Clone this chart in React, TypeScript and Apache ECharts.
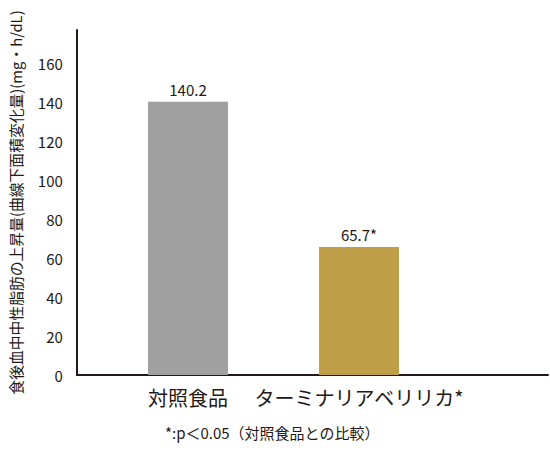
import React, { useEffect, useRef } from "react";
import * as echarts from "echarts";

const categories = ["対照食品", "ターミナリアベリリカ*"];
const values = [140.2, 65.7];
const valueLabels = ["140.2", "65.7*"];
const barColors = ["#a0a0a0", "#bf9e4a"];
const yAxisName = "食後血中中性脂肪の上昇量(曲線下面積変化量)(mg・h/dL)";
const footnote = "*:p＜0.05（対照食品との比較）";

const FONT = "'Noto Sans CJK JP', 'Noto Sans', sans-serif";
const TEXT = "#231815";

export default function App() {
  const ref = useRef<HTMLDivElement>(null);
  useEffect(() => {
    document.body.style.margin = "0";
    if (!ref.current) return;
    const chart = echarts.init(ref.current, null, { renderer: "svg" });
    chart.setOption({
      animation: false,
      textStyle: { fontFamily: FONT, color: TEXT },
      grid: [
        { left: 62, right: 2, top: 30, bottom: 75 },
        { left: 102.5, right: 105.5, top: 30, bottom: 75 },
      ],
      xAxis: [
        {
          gridIndex: 0,
          type: "value",
          min: 0,
          max: 1,
          axisLine: { show: true, onZero: false, lineStyle: { color: TEXT, width: 2 } },
          axisTick: { show: false },
          axisLabel: { show: false },
          splitLine: { show: false },
        },
        {
          gridIndex: 1,
          type: "category",
          data: categories,
          axisLine: { show: false },
          axisTick: { show: false },
          axisLabel: {
            fontFamily: FONT,
            fontSize: 20,
            color: TEXT,
            margin: 12,
            interval: 0,
          },
        },
      ],
      yAxis: [
        {
          gridIndex: 0,
          type: "value",
          min: 0,
          max: 177,
          interval: 20,
          name: yAxisName,
          nameLocation: "middle",
          nameGap: 54,
          nameTextStyle: { fontFamily: FONT, fontSize: 14.8, color: TEXT },
          axisLine: { show: true, lineStyle: { color: TEXT, width: 2 } },
          axisTick: { show: false },
          splitLine: { show: false },
          axisLabel: {
            fontFamily: FONT,
            fontSize: 15,
            color: TEXT,
            margin: 14,
            showMaxLabel: false,
          },
        },
        {
          gridIndex: 1,
          type: "value",
          min: 0,
          max: 177,
          interval: 20,
          show: false,
        },
      ],
      series: [
        {
          type: "bar",
          xAxisIndex: 1,
          yAxisIndex: 1,
          barWidth: 80,
          data: values.map((v, i) => ({
            value: v,
            itemStyle: { color: barColors[i] },
            label: {
              show: true,
              position: "top",
              distance: 5,
              formatter: valueLabels[i],
              fontFamily: FONT,
              fontSize: 15,
              color: TEXT,
            },
          })),
        },
      ],
      graphic: [
        {
          type: "text",
          left: 165,
          top: 425,
          style: {
            text: footnote,
            fontFamily: FONT,
            fontSize: 15,
            fill: TEXT,
          },
        },
      ],
    });
    return () => chart.dispose();
  }, []);
  return <div ref={ref} style={{ width: 550, height: 450 }} />;
}
